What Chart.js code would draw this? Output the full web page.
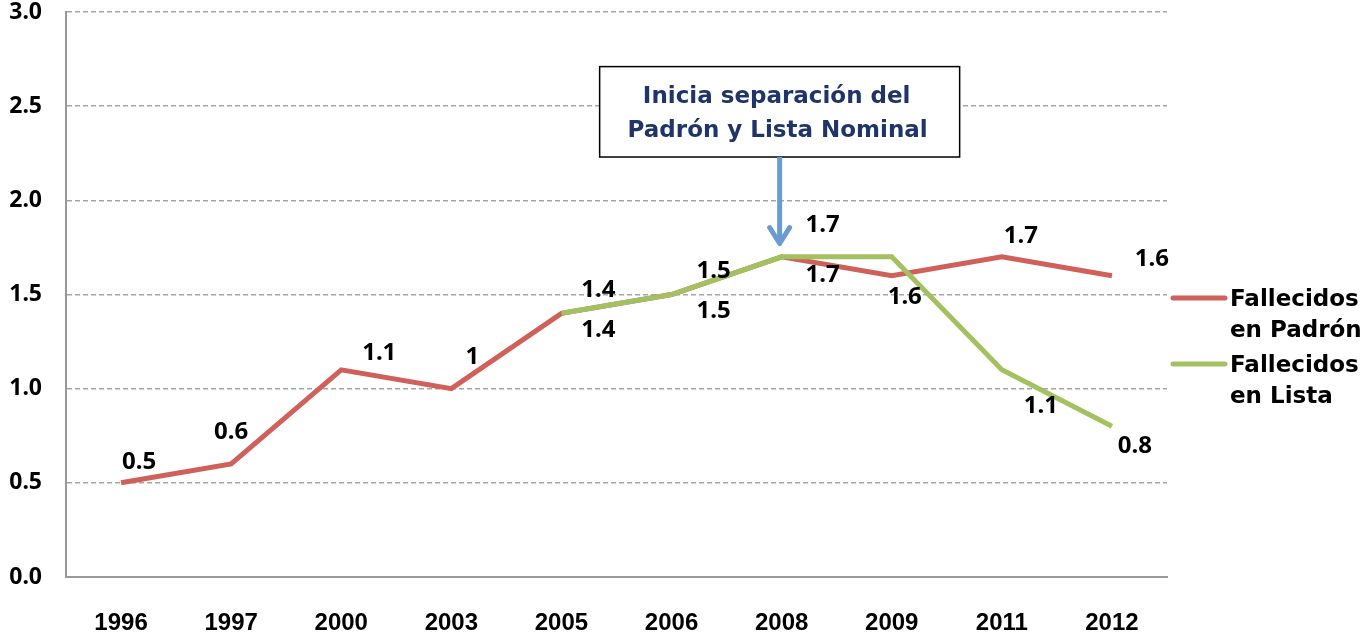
<!DOCTYPE html>
<html>
<head>
<meta charset="utf-8">
<script src="https://cdn.jsdelivr.net/npm/chart.js@4.4.1/dist/chart.umd.min.js"></script>
<style>
  html, body { margin: 0; padding: 0; background: #fff; }
  #wrap { width: 1367px; height: 638px; position: relative; }
</style>
</head>
<body>
<div id="wrap"><canvas id="chart"></canvas></div>
<script>
const years = ["1996", "1997", "2000", "2003", "2005", "2006", "2008", "2009", "2011", "2012"];
const padronValues = [0.5, 0.6, 1.1, 1.0, 1.4, 1.5, 1.7, 1.6, 1.7, 1.6];
const listaValues = [null, null, null, null, 1.4, 1.5, 1.7, 1.7, 1.1, 0.8];
const padronLabels = ["0.5", "0.6", "1.1", "1", "1.4", "1.5", "1.7", "1.6", "1.7", "1.6"];
const listaLabels = [null, null, null, null, "1.4", "1.5", "1.7", null, "1.1", "0.8"];
const seriesNames = [["Fallecidos", "en Padrón"], ["Fallecidos", "en Lista"]];
const noteLines = ["Inicia separación del", "Padrón y Lista Nominal"];

// donde va cada etiqueta respecto a su punto (px)
const padronOffsets = [[18, -21], [0, -32], [38, -17], [21, -32], [37, -23], [42, -23], [41, 18], [13, 21], [19, -21], [40, -17]];
const listaOffsets = [null, null, null, null, [37, 17], [42, 17], [41, -32], null, [39, 36], [23, 20]];

const RED = "#d0605a";
const GREEN = "#a3c161";
const numFont = "'Noto Sans', 'DejaVu Sans', sans-serif";
const textFont = "'DejaVu Sans', 'Noto Sans', sans-serif";

const labelPlugin = {
  id: "valueLabels",
  afterDatasetsDraw(chart) {
    const ctx = chart.ctx;
    ctx.save();
    ctx.font = "bold 24px " + numFont;
    ctx.fillStyle = "#000";
    ctx.textAlign = "center";
    ctx.textBaseline = "middle";
    const sets = [[padronLabels, padronOffsets], [listaLabels, listaOffsets]];
    sets.forEach(([labels, offs], i) => {
      const meta = chart.getDatasetMeta(i);
      meta.data.forEach((pt, j) => {
        if (!labels[j] || !offs[j]) return;
        ctx.fillText(labels[j], pt.x + offs[j][0], pt.y + offs[j][1]);
      });
    });
    ctx.restore();
  }
};

const legendPlugin = {
  id: "sideLegend",
  afterDraw(chart) {
    const ctx = chart.ctx;
    const area = chart.chartArea;
    const x0 = area.right + 6;
    const colors = [RED, GREEN];
    const rows = [298, 364];
    ctx.save();
    ctx.font = "bold 23px " + textFont;
    ctx.textBaseline = "middle";
    ctx.textAlign = "left";
    seriesNames.forEach((lines, i) => {
      ctx.strokeStyle = colors[i];
      ctx.lineWidth = 5;
      ctx.lineCap = "round";
      ctx.beginPath();
      ctx.moveTo(x0, rows[i]);
      ctx.lineTo(x0 + 52, rows[i]);
      ctx.stroke();
      ctx.fillStyle = "#000";
      lines.forEach((t, k) => ctx.fillText(t, x0 + 57, rows[i] + 2 + k * 31));
    });
    ctx.restore();
  }
};

const notePlugin = {
  id: "note",
  afterDraw(chart) {
    const ctx = chart.ctx;
    const xs = chart.scales.x, ys = chart.scales.y;
    const cx = xs.getPixelForValue(6);
    const top = ys.getPixelForValue(2.71);
    const bottom = ys.getPixelForValue(2.23);
    const tip = ys.getPixelForValue(1.76);
    const w = 360;
    ctx.save();
    ctx.fillStyle = "#fff";
    ctx.fillRect(cx - 182, top, w, bottom - top);
    ctx.strokeStyle = "#000";
    ctx.lineWidth = 1.5;
    ctx.strokeRect(cx - 182, top, w, bottom - top);
    ctx.fillStyle = "#1f3468";
    ctx.font = "bold 23px " + textFont;
    ctx.textAlign = "center";
    ctx.textBaseline = "middle";
    ctx.fillText(noteLines[0], cx - 5, top + 30);
    ctx.fillText(noteLines[1], cx - 4, top + 64);
    // flecha
    const ax = cx - 2;
    ctx.strokeStyle = "#6a9bd0";
    ctx.lineWidth = 5;
    ctx.beginPath();
    ctx.moveTo(ax, bottom);
    ctx.lineTo(ax, tip - 4);
    ctx.stroke();
    ctx.lineCap = "round";
    ctx.lineJoin = "round";
    ctx.beginPath();
    ctx.moveTo(ax - 10, tip - 18);
    ctx.lineTo(ax, tip - 2);
    ctx.lineTo(ax + 10, tip - 18);
    ctx.stroke();
    ctx.restore();
  }
};

new Chart(document.getElementById("chart"), {
  type: "line",
  data: {
    labels: years,
    datasets: [
      {
        label: "Fallecidos en Padrón",
        data: padronValues,
        borderColor: RED,
        backgroundColor: RED,
        borderWidth: 5,
        pointRadius: 0,
        tension: 0,
        order: 1
      },
      {
        label: "Fallecidos en Lista",
        data: listaValues,
        borderColor: GREEN,
        backgroundColor: GREEN,
        borderWidth: 5,
        pointRadius: 0,
        tension: 0,
        spanGaps: false,
        order: 0
      }
    ]
  },
  options: {
    responsive: true,
    maintainAspectRatio: false,
    animation: false,
    layout: { autoPadding: false, padding: { top: 12, right: 200, left: 0, bottom: 0 } },
    plugins: { legend: { display: false }, tooltip: { enabled: false } },
    scales: {
      x: {
        offset: true,
        afterFit: s => { s.height = 61; s.paddingLeft = 0; s.paddingRight = 0; },
        grid: { display: false, offset: true },
        border: { display: true, color: "#999", width: 2 },
        ticks: {
          color: "#000",
          padding: 24,
          font: { family: "'Liberation Sans', Arial, sans-serif", size: 24, weight: "bold" }
        }
      },
      y: {
        min: 0,
        max: 3,
        afterFit: s => { s.width = 66; s.paddingTop = 0; s.paddingBottom = 0; },
        grid: { color: "#a6a6a6", lineWidth: 1.5, drawTicks: false },
        border: { display: true, color: "#999", width: 2, dash: [5, 3] },
        ticks: {
          stepSize: 0.5,
          color: "#000",
          padding: 24,
          callback: v => v.toFixed(1),
          font: { family: numFont, size: 23, weight: "bold" }
        }
      }
    }
  },
  plugins: [labelPlugin, legendPlugin, notePlugin]
});
</script>
</body>
</html>
